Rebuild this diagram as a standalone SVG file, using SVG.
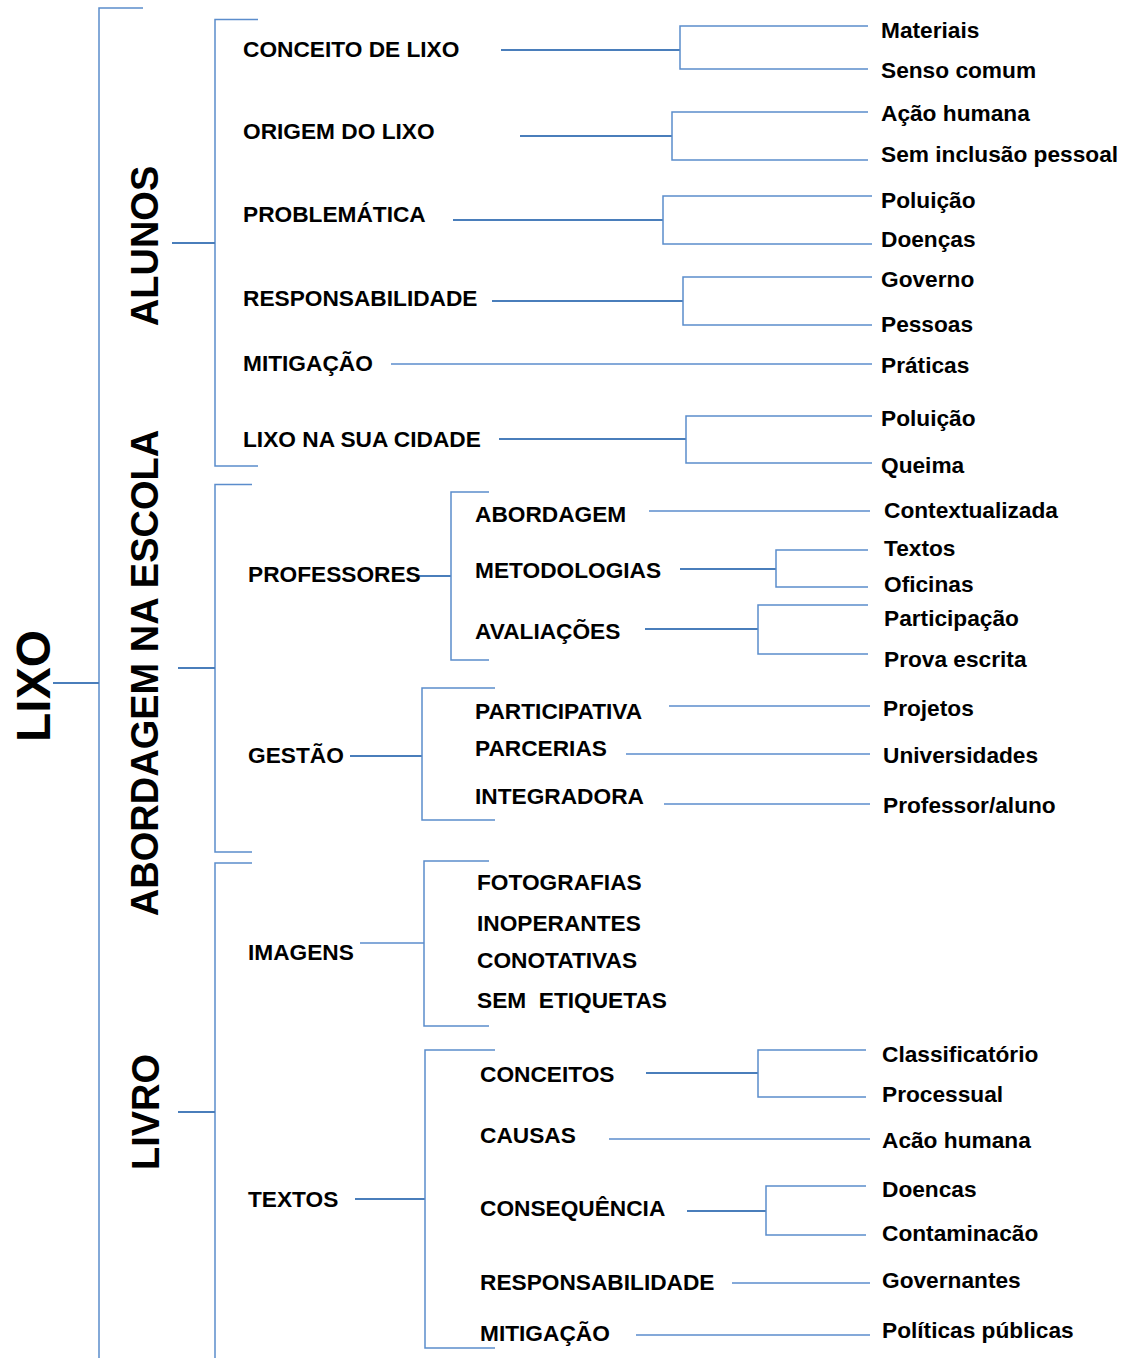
<svg xmlns="http://www.w3.org/2000/svg" width="1126" height="1358" viewBox="0 0 1126 1358">
<style>
text{font-family:"Liberation Sans",Arial,sans-serif;font-weight:bold;fill:#000}
.t{font-size:22.7px}
.big{font-size:38px}
.root{font-size:48px}
.c{fill:none;stroke:#4a7ebb;stroke-width:2}
.b{fill:none;stroke:#5b8dcc;stroke-width:1.5}
</style>
<rect width="1126" height="1358" fill="#fff"/>
<g id="connectors">
<path class="b" d="M143,8 H99 V1358"/>
<path class="c" d="M53,683 H99"/>
<path class="b" d="M258,19.5 H215 V466 H258"/>
<path class="c" d="M172,243 H215"/>
<path class="b" d="M252,484.5 H215 V852 H252"/>
<path class="c" d="M178,668 H215"/>
<path class="b" d="M252,863 H215 V1358"/>
<path class="c" d="M178,1112 H215"/>
<path class="c" d="M501,50 H680"/>
<path class="b" d="M868,26 H680 V69 H868"/>
<path class="c" d="M520,136 H672"/>
<path class="b" d="M868,112 H672 V160 H868"/>
<path class="c" d="M453,220 H663"/>
<path class="b" d="M872,196 H663 V244 H872"/>
<path class="c" d="M492,301 H683"/>
<path class="b" d="M872,277 H683 V325 H872"/>
<path class="b" d="M391,364 H872"/>
<path class="c" d="M499,439 H686"/>
<path class="b" d="M872,416 H686 V463 H872"/>
<path class="c" d="M415,576 H451"/>
<path class="b" d="M489,492 H451 V660 H489"/>
<path class="b" d="M649,511 H870"/>
<path class="c" d="M680,569 H776"/>
<path class="b" d="M868,550 H776 V587 H868"/>
<path class="c" d="M645,629 H758"/>
<path class="b" d="M868,605 H758 V654 H868"/>
<path class="c" d="M350,756 H422"/>
<path class="b" d="M495,688 H422 V820 H495"/>
<path class="b" d="M669,706 H870"/>
<path class="b" d="M626,754 H870"/>
<path class="b" d="M664,804 H870"/>
<path class="b" d="M360,943 H424"/>
<path class="b" d="M489,861 H424 V1026 H489"/>
<path class="c" d="M355,1199 H425"/>
<path class="b" d="M495,1050 H425 V1348 H495"/>
<path class="c" d="M646,1073 H758"/>
<path class="b" d="M866,1050 H758 V1097 H866"/>
<path class="b" d="M609,1139 H870"/>
<path class="c" d="M687,1211 H766"/>
<path class="b" d="M866,1186 H766 V1235 H866"/>
<path class="b" d="M732,1283 H870"/>
<path class="b" d="M636,1335 H870"/>
</g>
<g id="lixo"><text class="root" text-anchor="middle" transform="translate(50,686) rotate(-90)">LIXO</text></g>
<g id="alunos"><text class="big" text-anchor="middle" transform="translate(158,246) rotate(-90)">ALUNOS</text></g>
<g id="abordagem-escola"><text class="big" text-anchor="middle" transform="translate(158,673) rotate(-90)">ABORDAGEM NA ESCOLA</text></g>
<g id="livro"><text class="big" text-anchor="middle" transform="translate(159,1112) rotate(-90)">LIVRO</text></g>

<g id="conceito-lixo"><text class="t" x="243" y="57">CONCEITO DE LIXO</text></g>
<g id="origem-lixo"><text class="t" x="243" y="139">ORIGEM DO LIXO</text></g>
<g id="problematica"><text class="t" x="243" y="222">PROBLEMÁTICA</text></g>
<g id="responsabilidade-a"><text class="t" x="243" y="306">RESPONSABILIDADE</text></g>
<g id="mitigacao-a"><text class="t" x="243" y="371">MITIGAÇÃO</text></g>
<g id="lixo-cidade"><text class="t" x="243" y="447">LIXO NA SUA CIDADE</text></g>
<g id="materiais"><text class="t" x="881" y="37.5">Materiais</text></g>
<g id="senso-comum"><text class="t" x="881" y="78">Senso comum</text></g>
<g id="acao-humana-a"><text class="t" x="881" y="121">Ação humana</text></g>
<g id="sem-inclusao"><text class="t" x="881" y="162">Sem inclusão pessoal</text></g>
<g id="poluicao-a"><text class="t" x="881" y="208">Poluição</text></g>
<g id="doencas-a"><text class="t" x="881" y="247">Doenças</text></g>
<g id="governo"><text class="t" x="881" y="287">Governo</text></g>
<g id="pessoas"><text class="t" x="881" y="332">Pessoas</text></g>
<g id="praticas"><text class="t" x="881" y="373">Práticas</text></g>
<g id="poluicao-b"><text class="t" x="881" y="426">Poluição</text></g>
<g id="queima"><text class="t" x="881" y="473">Queima</text></g>

<g id="professores"><text class="t" x="248" y="582">PROFESSORES</text></g>
<g id="abordagem"><text class="t" x="475" y="522">ABORDAGEM</text></g>
<g id="metodologias"><text class="t" x="475" y="578">METODOLOGIAS</text></g>
<g id="avaliacoes"><text class="t" x="475" y="639">AVALIAÇÕES</text></g>
<g id="contextualizada"><text class="t" x="884" y="518">Contextualizada</text></g>
<g id="textos-m"><text class="t" x="884" y="556">Textos</text></g>
<g id="oficinas"><text class="t" x="884" y="592">Oficinas</text></g>
<g id="participacao"><text class="t" x="884" y="626">Participação</text></g>
<g id="prova-escrita"><text class="t" x="884" y="667">Prova escrita</text></g>

<g id="gestao"><text class="t" x="248" y="763">GESTÃO</text></g>
<g id="participativa"><text class="t" x="475" y="719">PARTICIPATIVA</text></g>
<g id="parcerias"><text class="t" x="475" y="756">PARCERIAS</text></g>
<g id="integradora"><text class="t" x="475" y="804">INTEGRADORA</text></g>
<g id="projetos"><text class="t" x="883" y="716">Projetos</text></g>
<g id="universidades"><text class="t" x="883" y="763">Universidades</text></g>
<g id="professor-aluno"><text class="t" x="883" y="813">Professor/aluno</text></g>

<g id="imagens"><text class="t" x="248" y="960">IMAGENS</text></g>
<g id="fotografias"><text class="t" x="477" y="890">FOTOGRAFIAS</text></g>
<g id="inoperantes"><text class="t" x="477" y="931">INOPERANTES</text></g>
<g id="conotativas"><text class="t" x="477" y="968">CONOTATIVAS</text></g>
<g id="sem-etiquetas"><text class="t" x="477" y="1008" xml:space="preserve" style="white-space:pre">SEM  ETIQUETAS</text></g>

<g id="textos"><text class="t" x="248" y="1207">TEXTOS</text></g>
<g id="conceitos"><text class="t" x="480" y="1082">CONCEITOS</text></g>
<g id="causas"><text class="t" x="480" y="1143">CAUSAS</text></g>
<g id="consequencia"><text class="t" x="480" y="1216">CONSEQUÊNCIA</text></g>
<g id="responsabilidade-t"><text class="t" x="480" y="1290">RESPONSABILIDADE</text></g>
<g id="mitigacao-t"><text class="t" x="480" y="1341">MITIGAÇÃO</text></g>
<g id="classificatorio"><text class="t" x="882" y="1062">Classificatório</text></g>
<g id="processual"><text class="t" x="882" y="1102">Processual</text></g>
<g id="acao-humana-t"><text class="t" x="882" y="1148">Acão humana</text></g>
<g id="doencas-t"><text class="t" x="882" y="1197">Doencas</text></g>
<g id="contaminacao"><text class="t" x="882" y="1241">Contaminacão</text></g>
<g id="governantes"><text class="t" x="882" y="1288">Governantes</text></g>
<g id="politicas"><text class="t" x="882" y="1338">Políticas públicas</text></g>
</svg>
